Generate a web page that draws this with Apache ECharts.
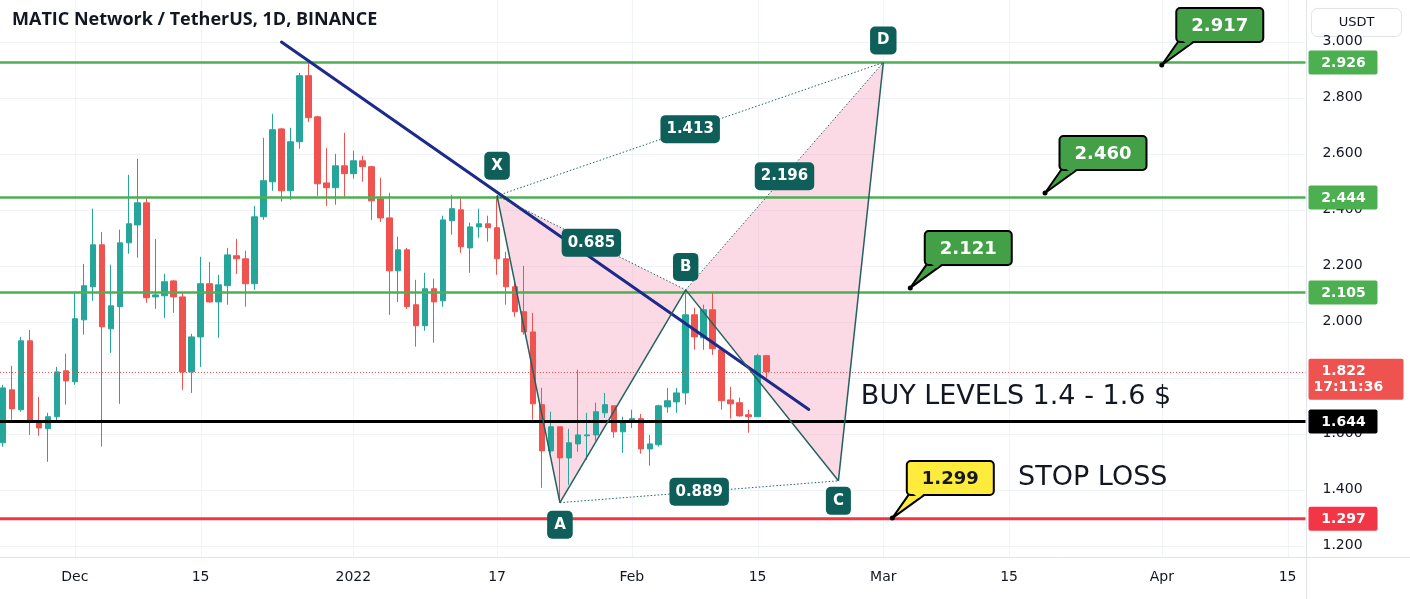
<!DOCTYPE html>
<html><head><meta charset="utf-8">
<script src="https://cdn.jsdelivr.net/npm/echarts@6/dist/echarts.min.js"></script>
<style>html,body{margin:0;padding:0;background:#fff}#c{width:1410px;height:599px}</style>
</head><body><div id="c"></div>
<script>
// ---------------- DATA ----------------
const candleDates = [
 '2021-11-23','2021-11-24','2021-11-25','2021-11-26','2021-11-27','2021-11-28','2021-11-29','2021-11-30',
 '2021-12-01','2021-12-02','2021-12-03','2021-12-04','2021-12-05','2021-12-06','2021-12-07','2021-12-08',
 '2021-12-09','2021-12-10','2021-12-11','2021-12-12','2021-12-13','2021-12-14','2021-12-15','2021-12-16',
 '2021-12-17','2021-12-18','2021-12-19','2021-12-20','2021-12-21','2021-12-22','2021-12-23','2021-12-24',
 '2021-12-25','2021-12-26','2021-12-27','2021-12-28','2021-12-29','2021-12-30','2021-12-31','2022-01-01',
 '2022-01-02','2022-01-03','2022-01-04','2022-01-05','2022-01-06','2022-01-07','2022-01-08','2022-01-09',
 '2022-01-10','2022-01-11','2022-01-12','2022-01-13','2022-01-14','2022-01-15','2022-01-16','2022-01-17',
 '2022-01-18','2022-01-19','2022-01-20','2022-01-21','2022-01-22','2022-01-23','2022-01-24','2022-01-25',
 '2022-01-26','2022-01-27','2022-01-28','2022-01-29','2022-01-30','2022-01-31','2022-02-01','2022-02-02',
 '2022-02-03','2022-02-04','2022-02-05','2022-02-06','2022-02-07','2022-02-08','2022-02-09','2022-02-10',
 '2022-02-11','2022-02-12','2022-02-13','2022-02-14','2022-02-15','2022-02-16'];
const openV = [
 1.568,1.757,1.686,1.932,1.646,1.618,1.661,1.825,
 1.786,2.007,2.125,2.275,1.975,2.054,2.282,2.346,
 2.425,2.089,2.093,2.146,2.089,1.821,1.946,2.136,
 2.071,2.129,2.236,2.225,2.136,2.375,2.500,2.689,
 2.468,2.643,2.879,2.732,2.496,2.479,2.557,2.529,
 2.575,2.554,2.439,2.371,2.182,2.257,2.061,1.986,
 2.118,2.075,2.361,2.400,2.264,2.339,2.350,2.336,
 2.225,2.125,2.036,1.964,1.704,1.539,1.625,1.514,
 1.564,1.593,1.596,1.675,1.700,1.607,1.646,1.654,
 1.546,1.561,1.696,1.714,1.746,2.025,1.943,2.043,
 1.900,1.721,1.711,1.668,1.661,1.879];
const highV = [
 1.775,1.843,1.946,1.971,1.732,1.675,1.839,1.886,
 2.104,2.207,2.404,2.321,2.204,2.329,2.525,2.582,
 2.443,2.296,2.171,2.150,2.104,1.957,2.232,2.214,
 2.168,2.264,2.296,2.254,2.414,2.657,2.743,2.693,
 2.693,2.889,2.929,2.736,2.621,2.600,2.675,2.611,
 2.593,2.557,2.514,2.461,2.304,2.264,2.150,2.175,
 2.154,2.379,2.454,2.446,2.354,2.404,2.379,2.450,
 2.250,2.139,2.200,2.032,1.764,1.679,1.625,1.618,
 1.829,1.675,1.711,1.746,1.700,1.661,1.686,1.671,
 1.596,1.704,1.764,1.764,2.111,2.050,2.061,2.104,
 1.900,1.768,1.729,1.686,1.886,1.882];
const lowV = [
 1.554,1.650,1.679,1.596,1.593,1.500,1.639,1.704,
 1.775,1.954,2.075,1.554,1.889,1.707,2.243,2.229,
 2.068,2.046,2.014,2.032,1.757,1.746,1.839,2.068,
 1.943,2.061,2.171,2.054,2.114,2.364,2.468,2.429,
 2.436,2.618,2.714,2.450,2.414,2.418,2.446,2.511,
 2.500,2.364,2.357,2.025,2.071,2.046,1.911,1.968,
 1.925,2.054,2.311,2.246,2.175,2.300,2.286,2.168,
 2.061,2.018,1.954,1.650,1.407,1.532,1.354,1.418,
 1.536,1.507,1.575,1.657,1.586,1.532,1.621,1.529,
 1.486,1.554,1.675,1.675,1.704,1.900,1.900,1.882,
 1.686,1.654,1.661,1.604,1.661,1.800];
const closeV = [
 1.764,1.689,1.932,1.646,1.621,1.661,1.821,1.789,
 2.011,2.129,2.275,1.982,2.057,2.282,2.350,2.425,
 2.086,2.096,2.143,2.089,1.821,1.946,2.136,2.071,
 2.132,2.239,2.225,2.136,2.375,2.504,2.686,2.468,
 2.643,2.879,2.729,2.493,2.479,2.557,2.529,2.575,
 2.554,2.432,2.371,2.182,2.257,2.054,1.986,2.118,
 2.071,2.364,2.404,2.268,2.339,2.350,2.336,2.225,
 2.125,2.036,1.964,1.707,1.539,1.625,1.514,1.568,
 1.596,1.596,1.679,1.704,1.607,1.646,1.654,1.546,
 1.564,1.700,1.718,1.746,2.025,1.946,2.043,1.904,
 1.718,1.707,1.664,1.661,1.879,1.822];

const xLabelDates = ['2021-12-01','2021-12-15','2022-01-01','2022-01-17','2022-02-01','2022-02-15','2022-03-01','2022-03-15','2022-04-01','2022-04-15'];
const xLabelTexts = ['Dec','15','2022','17','Feb','15','Mar','15','Apr','15'];
const yTickValues = [1.2,1.4,1.6,1.8,2.0,2.2,2.4,2.6,2.8,3.0];

const levelValues = [2.926, 2.444, 2.105, 1.644, 1.297];
const levelTexts = ['2.926','2.444','2.105','1.644','1.297'];
const lastDate = '2022-02-16';
const lastPrice = 1.822;
const lastPriceText = '1.822';
const countdownText = '17:11:36';

const patternNames = ['X','A','B','C','D'];
const patternDates = ['2022-01-17','2022-01-24','2022-02-07','2022-02-24','2022-03-01'];
const patternValues = [2.450, 1.354, 2.114, 1.432, 2.926];
const ratioTexts = ['0.685','0.889','2.196','1.413']; // X-B, A-C, B-D, X-D

const trendDates = ['2021-12-24','2022-02-20T17:00'];
const trendValues = [2.999, 1.687];

const calloutDates = ['2022-04-01','2022-03-19','2022-03-04','2022-03-02'];
const calloutValues = [2.917, 2.460, 2.121, 1.299];
const calloutTexts = ['2.917','2.460','2.121','1.299'];

const noteDates = ['2022-02-26T12:00','2022-03-16T00:00'];
const noteValues = [1.732, 1.443];
const noteTexts = ['BUY LEVELS 1.4 - 1.6 $','STOP LOSS'];

const titleText = 'MATIC Network / TetherUS, 1D, BINANCE';
const currencyText = 'USDT';

// ---------------- STYLE ----------------
const FONT = "'Open Sans', 'Noto Sans', sans-serif";
const WIDE = "'DejaVu Sans', 'Open Sans', sans-serif";
const UP = '#26a69a', DOWN = '#ef5350';
const levelColors = ['#4caf50','#4caf50','#4caf50','#000000','#f23645'];
const levelWidths = [2.5,2.5,2.5,3,3];
const PINK = 'rgba(244,143,177,0.33)';
const PAT_LINE = '#24615f';
const PAT_BOX = '#0e5e5a';
const nameOffsets = [-30, 22, -23, 20, -22];
const calloutFills = ['#43a047','#43a047','#43a047','#ffeb3b'];
const calloutTextColors = ['#ffffff','#ffffff','#ffffff','#131722'];

const BASE = Date.UTC(2021, 11, 1);
function dayOf(s) {
  const t = Date.parse(s.length === 10 ? s + 'T00:00:00Z' : s + ':00Z');
  return (t - BASE) / 86400000;
}
const labelMap = {};
xLabelDates.forEach((s, i) => { labelMap[Math.round(dayOf(s))] = xLabelTexts[i]; });
const candleData = candleDates.map((s, i) => [dayOf(s), openV[i], closeV[i], lowV[i], highV[i]]);
const patternDays = patternDates.map(dayOf);

function isMult(v) { return Math.abs(v * 5 - Math.round(v * 5)) < 1e-6; }

const chart = echarts.init(document.getElementById('c'), null, {renderer: 'canvas'});

const option = {
  animation: false,
  backgroundColor: '#ffffff',
  grid: {left: 0.5, top: 0, width: 1305, height: 557, containLabel: false},
  xAxis: {
    type: 'value', min: -8, max: 137, interval: 1,
    axisLine: {show: false}, axisTick: {show: false}, splitLine: {show: false},
    axisLabel: {margin: 13, color: '#131722', fontSize: 14, fontFamily: WIDE,
      formatter: v => (labelMap[Math.round(v)] !== undefined && Math.abs(v - Math.round(v)) < 1e-6) ? labelMap[Math.round(v)] : ''}
  },
  yAxis: {
    type: 'value', position: 'right', min: 1.16, max: 1.16 + 557 / 280, interval: 0.04,
    axisLine: {show: false}, axisTick: {show: false}, splitLine: {show: false},
    axisLabel: {margin: 17, color: '#131722', fontSize: 14, fontFamily: WIDE,
      showMaxLabel: false,
      formatter: v => isMult(v) ? v.toFixed(3) : ''}
  },
  graphic: [
    {type: 'line', shape: {x1: 0, y1: 557.5, x2: 1410, y2: 557.5}, style: {stroke: '#e0e3eb', lineWidth: 1}, z: 100},
    {type: 'line', shape: {x1: 1306.5, y1: 0, x2: 1306.5, y2: 599}, style: {stroke: '#e0e3eb', lineWidth: 1}, z: 100},
    {type: 'text', left: 12, top: 11, z: 100, style: {text: titleText, font: 'bold 18px ' + FONT, fill: '#131722'}},
    {type: 'group', left: 1311, top: 8, z: 100, children: [
      {type: 'rect', shape: {x: 0, y: 0, width: 90, height: 28, r: 6}, style: {fill: '#fff', stroke: '#e0e3eb', lineWidth: 1}},
      {type: 'text', x: 45, y: 14, style: {text: currencyText, font: '13px ' + WIDE, fill: '#131722', align: 'center', verticalAlign: 'middle'}}
    ]}
  ],
  series: [
    { // vertical grid lines
      type: 'custom', silent: true, z: 0,
      data: xLabelDates.map(s => [dayOf(s), 2]),
      renderItem(params, api) {
        const cs = params.coordSys;
        const x = Math.round(api.coord([api.value(0), 2])[0]) + 0.5;
        return {type: 'line', shape: {x1: x, y1: cs.y, x2: x, y2: cs.y + cs.height}, style: {stroke: '#f0f3fa', lineWidth: 1}};
      }
    },
    { // horizontal grid lines
      type: 'custom', silent: true, z: 0,
      data: yTickValues.map(v => [0, v]),
      renderItem(params, api) {
        const cs = params.coordSys;
        const y = Math.round(api.coord([0, api.value(1)])[1]) + 0.5;
        return {type: 'line', shape: {x1: 0, y1: y, x2: cs.x + cs.width, y2: y}, style: {stroke: '#f0f3fa', lineWidth: 1}};
      }
    },
    { // pattern fill
      type: 'custom', silent: true, z: 1,
      data: patternDays.map((d, i) => [d, patternValues[i]]),
      renderItem(params, api) {
        const i = params.dataIndex;
        if (i !== 2 && i !== 4) return null;
        const p = patternDays.map((d, k) => api.coord([d, patternValues[k]]));
        return {type: 'polygon', shape: {points: [p[i - 2], p[i - 1], p[i]]}, style: {fill: PINK}};
      }
    },
    {
      type: 'candlestick', z: 3,
      data: candleData,
      encode: {x: 0, y: [1, 2, 3, 4]},
      barWidth: 6,
      itemStyle: {color: UP, color0: DOWN, borderColor: UP, borderColor0: DOWN, borderWidth: 1}
    },
    { // current price dotted line
      type: 'custom', silent: true, z: 4,
      data: [[dayOf(lastDate), lastPrice]],
      renderItem(params, api) {
        const cs = params.coordSys;
        const y = Math.round(api.coord([0, lastPrice])[1]) + 0.5;
        return {type: 'line', shape: {x1: 0, y1: y, x2: cs.x + cs.width, y2: y}, style: {stroke: DOWN, lineWidth: 1, lineDash: [1, 2]}};
      }
    },
    { // horizontal levels
      type: 'custom', silent: true, z: 5,
      data: levelValues.map(v => [0, v]),
      renderItem(params, api) {
        const cs = params.coordSys;
        const i = params.dataIndex;
        const y = api.coord([0, api.value(1)])[1];
        return {type: 'line', shape: {x1: 0, y1: y, x2: cs.x + cs.width, y2: y}, style: {stroke: levelColors[i], lineWidth: levelWidths[i]}};
      }
    },
    { // trend line
      type: 'custom', silent: true, z: 6,
      data: [[dayOf(trendDates[0]), trendValues[0]]],
      renderItem(params, api) {
        const a = api.coord([dayOf(trendDates[0]), trendValues[0]]);
        const b = api.coord([dayOf(trendDates[1]), trendValues[1]]);
        return {type: 'line', shape: {x1: a[0], y1: a[1], x2: b[0], y2: b[1]}, style: {stroke: '#1c2a8c', lineWidth: 3, lineCap: 'round'}};
      }
    },
    { // pattern lines and labels
      type: 'custom', silent: true, z: 7,
      data: patternDays.map((d, i) => [d, patternValues[i]]),
      renderItem(params, api) {
        const i = params.dataIndex;
        const p = patternDays.map((d, k) => api.coord([d, patternValues[k]]));
        const ch = [];
        const box = (x, y, text) => ({type: 'text', x: x, y: y, z2: 10,
          style: {text: text, font: 'bold 15px ' + WIDE, fill: '#fff', align: 'center', verticalAlign: 'middle',
            backgroundColor: PAT_BOX, padding: [7, 6, 6, 6], borderRadius: 5}});
        const dotted = (a, b) => ({type: 'line', shape: {x1: a[0], y1: a[1], x2: b[0], y2: b[1]}, style: {stroke: PAT_LINE, lineWidth: 1, lineDash: [1.5, 2]}});
        if (i > 0) ch.push({type: 'line', shape: {x1: p[i - 1][0], y1: p[i - 1][1], x2: p[i][0], y2: p[i][1]}, style: {stroke: PAT_LINE, lineWidth: 1.5}});
        if (i >= 2) {
          ch.push(dotted(p[i - 2], p[i]));
          ch.push(box((p[i - 2][0] + p[i][0]) / 2, (p[i - 2][1] + p[i][1]) / 2, ratioTexts[i - 2]));
        }
        if (i === 4) {
          ch.push(dotted(p[0], p[4]));
          ch.push(box((p[0][0] + p[4][0]) / 2, (p[0][1] + p[4][1]) / 2, ratioTexts[3]));
        }
        const nb = box(p[i][0], p[i][1] + nameOffsets[i], patternNames[i]);
        nb.style.padding = [7, 7, 6, 7];
        ch.push(nb);
        return {type: 'group', children: ch};
      }
    },
    { // notes
      type: 'custom', silent: true, z: 8,
      data: noteDates.map((s, i) => [dayOf(s), noteValues[i]]),
      renderItem(params, api) {
        const i = params.dataIndex;
        const p = api.coord([api.value(0), api.value(1)]);
        return {type: 'text', x: p[0], y: p[1], style: {text: noteTexts[i], font: '27px ' + WIDE, fill: '#131722', align: 'left', verticalAlign: 'middle'}};
      }
    },
    { // callouts
      type: 'custom', silent: true, z: 9,
      data: calloutDates.map((s, i) => [dayOf(s), calloutValues[i]]),
      renderItem(params, api) {
        const i = params.dataIndex;
        const p = api.coord([api.value(0), api.value(1)]);
        const w = 87, h = 34;
        const cx = p[0] + 58, cy = p[1] - 40;
        const L = cx - w / 2, T = cy - h / 2, B = cy + h / 2;
        return {type: 'group', children: [
          {type: 'polygon', shape: {points: [[L + 3, B - 2], [L + 20, B - 2], [p[0], p[1]]]}, style: {fill: calloutFills[i], stroke: '#000', lineWidth: 2, lineJoin: 'round'}},
          {type: 'rect', shape: {x: L, y: T, width: w, height: h, r: 4}, style: {fill: calloutFills[i], stroke: '#000', lineWidth: 2}},
          {type: 'polygon', shape: {points: [[L + 4, B - 3], [L + 19, B - 3], [L + 12, B + 3]]}, style: {fill: calloutFills[i]}},
          {type: 'text', x: cx, y: cy + 1, style: {text: calloutTexts[i], font: 'bold 18px ' + WIDE, fill: calloutTextColors[i], align: 'center', verticalAlign: 'middle'}},
          {type: 'circle', shape: {cx: p[0], cy: p[1], r: 2.5}, style: {fill: '#000'}}
        ]};
      }
    },
    { // right axis tags
      type: 'custom', silent: true, z: 20,
      data: levelValues.map(v => [0, v]).concat([[0, lastPrice]]),
      renderItem(params, api) {
        const cs = params.coordSys;
        const i = params.dataIndex;
        const y = api.coord([0, api.value(1)])[1];
        const x = cs.x + cs.width + 3;
        if (i < levelValues.length) {
          return {type: 'group', children: [
            {type: 'rect', shape: {x: x, y: y - 12, width: 69, height: 24, r: 2}, style: {fill: levelColors[i]}},
            {type: 'text', x: x + 35, y: y + 1, style: {text: levelTexts[i], font: 'bold 14px ' + WIDE, fill: '#fff', align: 'center', verticalAlign: 'middle'}}
          ]};
        }
        return {type: 'group', children: [
          {type: 'rect', shape: {x: x, y: y - 13, width: 95, height: 41, r: 2}, style: {fill: DOWN}},
          {type: 'text', x: x + 13, y: y, style: {text: lastPriceText, font: 'bold 14px ' + WIDE, fill: '#fff', align: 'left', verticalAlign: 'middle'}},
          {type: 'text', x: x + 5, y: y + 16, style: {text: countdownText, font: 'bold 14px ' + WIDE, fill: '#fff', align: 'left', verticalAlign: 'middle'}}
        ]};
      }
    }
  ]
};
chart.setOption(option);
</script>
</body></html>
